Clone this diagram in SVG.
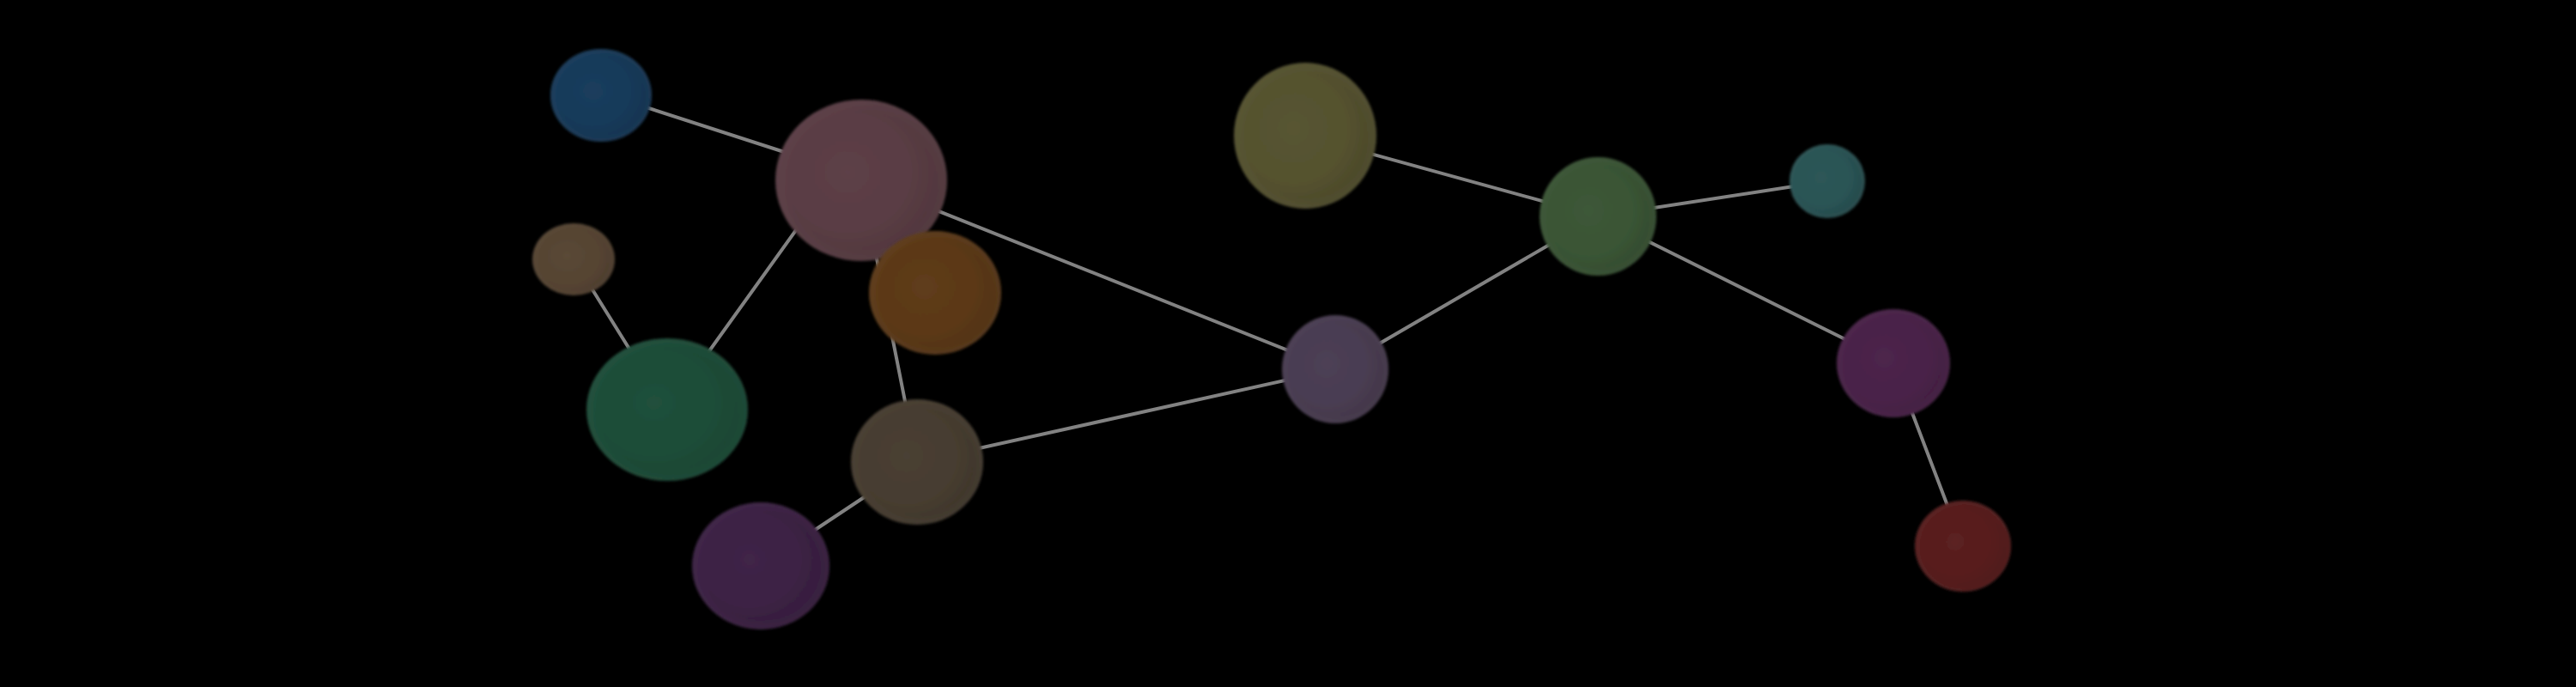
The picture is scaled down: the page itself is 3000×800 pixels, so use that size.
<svg xmlns="http://www.w3.org/2000/svg" width="3000" height="800" viewBox="0 0 3000 800">
<defs>
<radialGradient id="shade" cx="42%" cy="45%" r="60%">
<stop offset="0" stop-color="#fff" stop-opacity="0.02"/>
<stop offset="0.6" stop-color="#000" stop-opacity="0.0"/>
<stop offset="0.85" stop-color="#000" stop-opacity="0.08"/>
<stop offset="1" stop-color="#000" stop-opacity="0.14"/>
</radialGradient>
<radialGradient id="rim" cx="50%" cy="50%" r="50%">
<stop offset="0.85" stop-color="#fff" stop-opacity="0"/>
<stop offset="1" stop-color="#fff" stop-opacity="0.035"/>
</radialGradient>
<filter id="soft" x="-10%" y="-10%" width="120%" height="120%"><feGaussianBlur stdDeviation="1.5"/></filter>
<filter id="lsoft" x="-5%" y="-5%" width="110%" height="110%"><feGaussianBlur stdDeviation="0.7"/></filter>
</defs>
<style>
.edge{stroke:#828282;stroke-width:4;fill:none;stroke-linecap:round}
.sh{fill:url(#shade)}
.rm{fill:url(#rim)}
.node{filter:url(#soft)}
</style>
<rect width="3000" height="800" fill="#000"/>
<g id="connectors" filter="url(#lsoft)">
<line class="edge" x1="700" y1="108" x2="1003" y2="206"/>
<line class="edge" x1="1003" y1="210" x2="1555" y2="430"/>
<line class="edge" x1="965" y1="215" x2="777" y2="477"/>
<line class="edge" x1="668" y1="302" x2="777" y2="477"/>
<line class="edge" x1="1003" y1="210" x2="1068" y2="538"/>
<line class="edge" x1="1068" y1="538" x2="886" y2="659"/>
<line class="edge" x1="1068" y1="538" x2="1555" y2="430"/>
<line class="edge" x1="1555" y1="430" x2="1861" y2="252"/>
<line class="edge" x1="1520" y1="158" x2="1861" y2="252"/>
<line class="edge" x1="1861" y1="252" x2="2128" y2="211"/>
<line class="edge" x1="1861" y1="252" x2="2205" y2="423"/>
<line class="edge" x1="2205" y1="423" x2="2286" y2="636"/>
</g>
<g id="n-blue" class="node"><ellipse cx="700" cy="111" rx="59" ry="54" fill="#173a5a"/><ellipse class="sh" cx="700" cy="111" rx="59" ry="54"/><ellipse class="rm" cx="700" cy="111" rx="59" ry="54"/></g>
<g id="n-mauve" class="node"><ellipse cx="1003" cy="210" rx="100" ry="94" fill="#5a3d44"/><ellipse class="sh" cx="1003" cy="210" rx="100" ry="94"/><ellipse class="rm" cx="1003" cy="210" rx="100" ry="94"/></g>
<g id="n-tan" class="node"><ellipse cx="668" cy="302" rx="48" ry="42" fill="#574533"/><ellipse class="sh" cx="668" cy="302" rx="48" ry="42"/><ellipse class="rm" cx="668" cy="302" rx="48" ry="42"/></g>
<g id="n-orange" class="node"><ellipse cx="1089" cy="341" rx="77" ry="72" fill="#5c3917"/><ellipse class="sh" cx="1089" cy="341" rx="77" ry="72"/><ellipse class="rm" cx="1089" cy="341" rx="77" ry="72"/></g>
<g id="n-green" class="node"><ellipse cx="777" cy="477" rx="94" ry="83" fill="#1c4d38"/><ellipse class="sh" cx="777" cy="477" rx="94" ry="83"/><ellipse class="rm" cx="777" cy="477" rx="94" ry="83"/></g>
<g id="n-brown" class="node"><ellipse cx="1068" cy="538" rx="77" ry="73" fill="#473d30"/><ellipse class="sh" cx="1068" cy="538" rx="77" ry="73"/><ellipse class="rm" cx="1068" cy="538" rx="77" ry="73"/></g>
<g id="n-purple" class="node"><ellipse cx="886" cy="659" rx="80" ry="74" fill="#3c2144"/><ellipse class="sh" cx="886" cy="659" rx="80" ry="74"/><ellipse class="rm" cx="886" cy="659" rx="80" ry="74"/></g>
<g id="n-olive" class="node"><ellipse cx="1520" cy="158" rx="83" ry="85" fill="#55522f"/><ellipse class="sh" cx="1520" cy="158" rx="83" ry="85"/><ellipse class="rm" cx="1520" cy="158" rx="83" ry="85"/></g>
<g id="n-lavender" class="node"><ellipse cx="1555" cy="430" rx="62" ry="63" fill="#4a3d52"/><ellipse class="sh" cx="1555" cy="430" rx="62" ry="63"/><ellipse class="rm" cx="1555" cy="430" rx="62" ry="63"/></g>
<g id="n-green2" class="node"><ellipse cx="1861" cy="252" rx="68" ry="69" fill="#3a5535"/><ellipse class="sh" cx="1861" cy="252" rx="68" ry="69"/><ellipse class="rm" cx="1861" cy="252" rx="68" ry="69"/></g>
<g id="n-teal" class="node"><ellipse cx="2128" cy="211" rx="44" ry="43" fill="#2a5455"/><ellipse class="sh" cx="2128" cy="211" rx="44" ry="43"/><ellipse class="rm" cx="2128" cy="211" rx="44" ry="43"/></g>
<g id="n-magenta" class="node"><ellipse cx="2205" cy="423" rx="66" ry="63" fill="#4a2249"/><ellipse class="sh" cx="2205" cy="423" rx="66" ry="63"/><ellipse class="rm" cx="2205" cy="423" rx="66" ry="63"/></g>
<g id="n-red" class="node"><ellipse cx="2286" cy="636" rx="56" ry="53" fill="#581d1d"/><ellipse class="sh" cx="2286" cy="636" rx="56" ry="53"/><ellipse class="rm" cx="2286" cy="636" rx="56" ry="53"/></g>
</svg>
